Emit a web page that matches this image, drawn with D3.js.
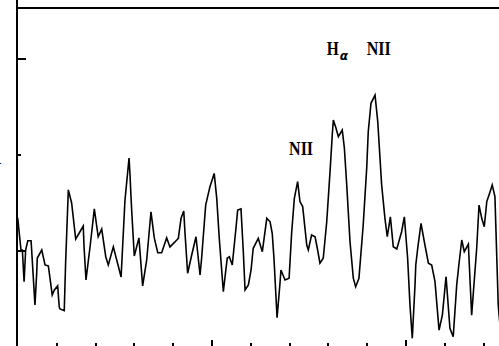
<!DOCTYPE html>
<html>
<head>
<meta charset="utf-8">
<script src="https://cdn.jsdelivr.net/npm/d3@7"></script>
<style>
  body { margin: 0; background: #fff; }
  svg { display: block; }
</style>
</head>
<body>
<script>
let width = 499,
  height = 346,
  axisLeftX = 17,
  frameTopY = 8

// observed spectrum, wavelength (A) and relative flux
let wave = [6500.1, 6501.8, 6502.5, 6503.4, 6504.2, 6505.3, 6507.0, 6507.6, 6509.0, 6509.9, 6510.2, 6512.5, 6514.2, 6515.9, 6517.9, 6519.0, 6520.7, 6521.5, 6521.9, 6524.1, 6524.8, 6526.2, 6527.9, 6530.0, 6532.2, 6533.9, 6534.3, 6535.3, 6537.4, 6539.6, 6541.6, 6543.4, 6545.5, 6546.8, 6549.4, 6553.4, 6555.4, 6557.5, 6558.0, 6558.5, 6558.9, 6560.2, 6562.6, 6564.5, 6566.6, 6568.8, 6570.5, 6572.3, 6574.3, 6576.9, 6578.6, 6582.1,
  6582.9, 6584.3, 6585.7, 6586.3, 6587.7, 6589.8, 6592.0, 6594.1, 6594.9, 6597.0, 6599.2, 6601.4, 6602.7, 6604.0, 6606.1, 6608.1, 6609.2, 6610.7, 6612.6, 6613.5, 6615.2, 6616.4, 6617.3, 6619.0, 6620.4, 6621.5, 6624.1, 6626.2, 6628.5, 6630.2, 6631.3, 6632.2, 6633.8, 6635.3, 6635.8, 6637.9, 6640.0, 6641.3, 6642.7, 6644.4, 6645.6, 6647.0, 6649.1, 6649.9, 6651.6, 6653.4, 6654.7, 6655.9, 6657.6, 6659.4, 6661.1, 6662.3, 6662.8, 6664.2,
  6665.4, 6667.4, 6668.5, 6669.7, 6671.4, 6673.1, 6674.3, 6676.0, 6678.2, 6680.0, 6680.8, 6682.2, 6684.3, 6685.7, 6687.7, 6689.4, 6690.6, 6692.2, 6693.7, 6695.5, 6698.0, 6699.4, 6701.1, 6702.3, 6703.5, 6704.9, 6705.3, 6706.3, 6708.0, 6709.7, 6711.8, 6713.5, 6715.2, 6717.3, 6719.0, 6720.9, 6722.9, 6724.6, 6726.4, 6727.6, 6729.0, 6730.3, 6732.4, 6734.1, 6736.7, 6737.9, 6739.3, 6740.6, 6741.9, 6743.6, 6744.7, 6746.1, 6747.8, 6748.7]

let flux = [0.667, 0.5, 0.5, 0.335, 0.5, 0.548, 0.548, 0.448, 0.214, 0.380, 0.458, 0.5, 0.422, 0.417, 0.266, 0.292, 0.313, 0.205, 0.193, 0.184, 0.432, 0.813, 0.745, 0.557, 0.595, 0.625, 0.517, 0.344, 0.517, 0.714, 0.569, 0.609, 0.465, 0.422, 0.517, 0.359, 0.760, 0.979, 0.891, 0.778, 0.699, 0.469, 0.563, 0.313, 0.448, 0.699, 0.563, 0.486, 0.486, 0.563, 0.516, 0.552,
  0.561, 0.665, 0.703, 0.595, 0.379, 0.474, 0.569, 0.370, 0.457, 0.734, 0.830, 0.899, 0.769, 0.561, 0.283, 0.457, 0.465, 0.422, 0.613, 0.708, 0.714, 0.491, 0.292, 0.318, 0.396, 0.509, 0.561, 0.491, 0.665, 0.647, 0.587, 0.457, 0.147, 0.327, 0.396, 0.344, 0.353, 0.587, 0.769, 0.856, 0.752, 0.726, 0.526, 0.5, 0.578, 0.569, 0.5, 0.431, 0.457, 0.647, 0.908, 1.108, 1.177, 1.134,
  1.090, 1.125, 1.030, 0.839, 0.543, 0.353, 0.309, 0.353, 0.630, 0.926, 1.116, 1.264, 1.307, 1.168, 0.839, 0.665, 0.569, 0.673, 0.517, 0.505, 0.595, 0.673, 0.457, 0.214, 0.040, 0.318, 0.422, 0.509, 0.639, 0.543, 0.431, 0.422, 0.335, 0.083, 0.161, 0.361, 0.092, 0.048, 0.318, 0.431, 0.552, 0.491, 0.530, 0.161, 0.509, 0.734, 0.665, 0.621, 0.752, 0.804, 0.839, 0.778, 0.214, 0.109]

let xMajorTicks = [6600, 6700]
let xMinorTicks = [6520, 6540, 6560, 6580, 6620, 6640, 6660, 6680, 6720, 6740]
let yMajorTicks = [0.5, 1.5]
let yMinorTicks = [1.0]
let yTickLabels = ['1']

// line identifications: name, wavelength and flux where the label sits
let lineNames = ['NII', 'H', 'NII']
let lineWave = [6640.0, 6659.4, 6680.0]
let lineFlux = [0.995, 1.516, 1.516]

let svg = d3.select('body').append('svg')
  .attr('width', width)
  .attr('height', height)

let scaleX = d3.scaleLinear()
  .domain([6500, 6750])
  .range([17.5, 502.5])

let scaleY = d3.scaleLinear()
  .domain([0, 1.8])
  .range([346, 346 - 1.8 * 192])

// frame
svg.append('line')
  .attr('x1', axisLeftX - 1).attr('x2', width)
  .attr('y1', frameTopY).attr('y2', frameTopY)
  .attr('stroke', '#000').attr('stroke-width', 2)

svg.append('line')
  .attr('x1', axisLeftX).attr('x2', axisLeftX)
  .attr('y1', 0).attr('y2', height)
  .attr('stroke', '#000').attr('stroke-width', 2)

// bottom ticks, pointing up from the lower edge
let axisXMajor = d3.axisBottom(scaleX).tickValues(xMajorTicks).tickSize(-6).tickFormat('')
let axisXMinor = d3.axisBottom(scaleX).tickValues(xMinorTicks).tickSize(-3).tickFormat('')

svg.append('g').attr('class', 'ax')
  .attr('transform', 'translate(0,' + height + ')')
  .call(axisXMajor)
svg.append('g').attr('class', 'ax')
  .attr('transform', 'translate(0,' + height + ')')
  .call(axisXMinor)

// left ticks, pointing into the plot
let axisYMajor = d3.axisLeft(scaleY).tickValues(yMajorTicks).tickSize(-9).tickFormat('')
let axisYMinor = d3.axisLeft(scaleY).tickValues(yMinorTicks).tickSize(-4).tickFormat('')

svg.append('g').attr('class', 'ax')
  .attr('transform', 'translate(' + axisLeftX + ',0)')
  .call(axisYMajor)
svg.append('g').attr('class', 'ax')
  .attr('transform', 'translate(' + axisLeftX + ',0)')
  .call(axisYMinor)

svg.selectAll('.ax .domain').remove()
svg.selectAll('.ax line')
  .attr('stroke', '#000')
  .attr('stroke-width', 2)
  .attr('shape-rendering', 'crispEdges')

// tick label, mostly cut off by the left edge
svg.selectAll('.ylab')
  .data(yMinorTicks)
  .enter()
  .append('text')
  .attr('class', 'ylab')
  .attr('x', 1.5)
  .attr('y', d => scaleY(d) + 10)
  .attr('text-anchor', 'end')
  .attr('fill', '#000')
  .attr('font-family', 'Liberation Sans, Arial, sans-serif')
  .attr('font-size', 12)
  .text((d, i) => yTickLabels[i])

// spectrum
let points = wave.map((w, i) => [w, flux[i]])

let line = d3.line()
  .x(d => scaleX(d[0]))
  .y(d => scaleY(d[1]))

svg.append('path')
  .datum(points)
  .attr('fill', 'none')
  .attr('stroke', '#000')
  .attr('stroke-width', 1.6)
  .attr('stroke-linejoin', 'miter')
  .attr('d', line)

// line labels
let labels = svg.selectAll('.lbl')
  .data(lineNames)
  .enter()
  .append('text')
  .attr('class', 'lbl')
  .attr('x', (d, i) => scaleX(lineWave[i]))
  .attr('y', (d, i) => scaleY(lineFlux[i]))
  .attr('font-family', 'Liberation Serif, Times New Roman, serif')
  .attr('font-weight', 'bold')
  .attr('font-size', 18)
  .attr('fill', '#000')

labels.append('tspan')
  .attr('textLength', d => d === 'H' ? 12 : 24)
  .attr('lengthAdjust', 'spacingAndGlyphs')
  .text(d => d)

labels.filter(d => d === 'H')
  .append('tspan')
  .attr('dx', 1)
  .attr('dy', 5)
  .attr('font-size', 12)
  .attr('font-style', 'italic')
  .attr('font-family', 'DejaVu Sans, sans-serif')
  .text('α')
</script>
</body>
</html>
